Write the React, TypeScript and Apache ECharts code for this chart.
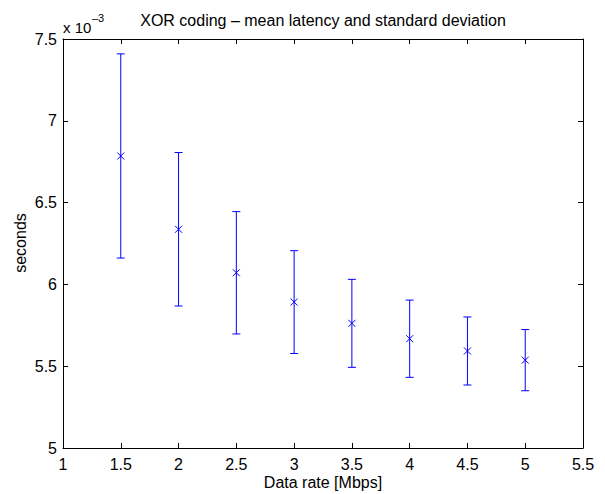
import React, { useEffect, useRef } from "react";
import * as echarts from "echarts";

// Data rate [Mbps]
const rates = [1.5, 2, 2.5, 3, 3.5, 4, 4.5, 5];
// mean latency, in units of 10^-3 s
const meanLatency = [6.785, 6.337, 6.071, 5.892, 5.762, 5.668, 5.593, 5.537];
// standard deviation, in units of 10^-3 s
const stdDev = [0.624, 0.469, 0.374, 0.314, 0.269, 0.236, 0.208, 0.187];

const xMin = 1;
const xMax = 5.5;
const xStep = 0.5;
const yMin = 5;
const yMax = 7.5;
const yStep = 0.5;

const titleText = "XOR coding \u2013 mean latency and standard deviation";
const xName = "Data rate [Mbps]";
const yName = "seconds";
const expBase = "x 10";
const expPow = "\u20133";

const FONT = "'Liberation Sans', Arial, Helvetica, sans-serif";
const BLUE = "#0000ff";

export default function App() {
  const ref = useRef<HTMLDivElement>(null);

  useEffect(() => {
    if (!ref.current) return;
    const chart = echarts.init(ref.current, null, { renderer: "svg" });

    const data = rates.map((r, i) => [r, meanLatency[i], stdDev[i]]);

    const axisCommon = {
      axisLine: { show: true, onZero: false, lineStyle: { color: "#000", width: 1 } },
      axisTick: { show: true, inside: true, length: 5, lineStyle: { color: "#000", width: 1 } },
      splitLine: { show: false },
    };

    const xBase = { type: "value", min: xMin, max: xMax, interval: xStep, ...axisCommon };
    const yBase = { type: "value", min: yMin, max: yMax, interval: yStep, ...axisCommon };

    chart.setOption({
      animation: false,
      backgroundColor: "#fff",
      grid: { left: 63, top: 39, width: 520, height: 409, containLabel: false },
      xAxis: [
        {
          ...xBase,
          position: "bottom",
          axisLabel: { show: true, color: "#000", fontSize: 16, fontFamily: FONT, margin: 8 },
        },
        { ...xBase, position: "top", axisLabel: { show: false } },
      ],
      yAxis: [
        {
          ...yBase,
          position: "left",
          axisLabel: { show: true, color: "#000", fontSize: 16, fontFamily: FONT, margin: 6 },
        },
        { ...yBase, position: "right", axisLabel: { show: false } },
      ],
      series: [
        {
          type: "custom",
          xAxisIndex: 0,
          yAxisIndex: 0,
          encode: { x: 0, y: 1 },
          data,
          renderItem: (params: any, api: any) => {
            const x = api.value(0);
            const m = api.value(1);
            const s = api.value(2);
            const top = api.coord([x, m + s]);
            const bot = api.coord([x, m - s]);
            const c = api.coord([x, m]);
            const cap = 4;
            const mk = 3.5;
            const style = { stroke: BLUE, lineWidth: 1, fill: "none" };
            return {
              type: "group",
              children: [
                { type: "line", shape: { x1: top[0], y1: top[1], x2: bot[0], y2: bot[1] }, style },
                { type: "line", shape: { x1: top[0] - cap, y1: top[1], x2: top[0] + cap, y2: top[1] }, style },
                { type: "line", shape: { x1: bot[0] - cap, y1: bot[1], x2: bot[0] + cap, y2: bot[1] }, style },
                { type: "line", shape: { x1: c[0] - mk, y1: c[1] - mk, x2: c[0] + mk, y2: c[1] + mk }, style },
                { type: "line", shape: { x1: c[0] - mk, y1: c[1] + mk, x2: c[0] + mk, y2: c[1] - mk }, style },
              ],
            };
          },
        },
      ],
      graphic: [
        {
          type: "text",
          x: 323,
          y: 20,
          style: {
            text: titleText,
            fill: "#000",
            font: `16px ${FONT}`,
            align: "center",
            verticalAlign: "middle",
          },
        },
        {
          type: "text",
          x: 323,
          y: 482,
          style: {
            text: xName,
            fill: "#000",
            font: `16px ${FONT}`,
            align: "center",
            verticalAlign: "middle",
          },
        },
        {
          type: "text",
          x: 20,
          y: 243,
          rotation: Math.PI / 2,
          style: {
            text: yName,
            fill: "#000",
            font: `16px ${FONT}`,
            align: "center",
            verticalAlign: "middle",
          },
        },
        {
          type: "text",
          x: 63,
          y: 27,
          style: {
            text: expBase,
            fill: "#000",
            font: `15px ${FONT}`,
            align: "left",
            verticalAlign: "middle",
          },
        },
        {
          type: "text",
          x: 92,
          y: 18,
          style: {
            text: expPow,
            fill: "#000",
            font: `11px ${FONT}`,
            align: "left",
            verticalAlign: "middle",
          },
        },
      ],
    });

    return () => chart.dispose();
  }, []);

  return (
    <div
      ref={ref}
      style={{ position: "fixed", left: 0, top: 0, width: 605, height: 494, background: "#fff" }}
    />
  );
}
